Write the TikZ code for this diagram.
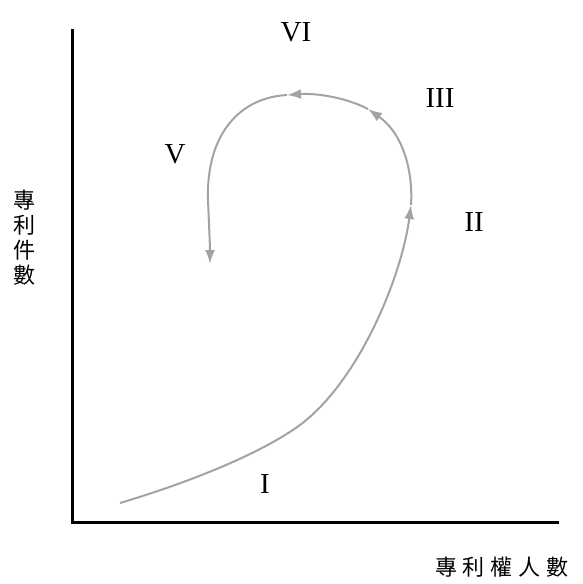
\documentclass[tikz,border=0pt]{standalone}
\usepackage{fontspec}
\setmainfont{Liberation Serif}
\newfontfamily\cjk{Noto Sans CJK TC}
\usepackage{xcolor}
\definecolor{CurveGray}{HTML}{A3A3A3}
\usetikzlibrary{arrows.meta}

\begin{document}
\begin{tikzpicture}[x=1pt, y=-1pt, axis/.style={line width=3pt, line cap=rect}, flow/.style={-{Latex[length=14pt,width=10pt]}, line width=2pt, CurveGray}, stage/.style={font=\fontsize{29}{29}\selectfont, inner sep=0pt}, axlabel/.style={font=\cjk\fontsize{22}{25}\selectfont, align=center, inner sep=0pt}]
    \useasboundingbox (0,0) rectangle (582,584);

    % axes
    \coordinate (ytop) at (72,30);
    \coordinate (origin) at (72,522);
    \coordinate (xend) at (557,522);
    \draw[axis] (ytop) -- (origin) -- (xend);

    \node[axlabel] (ylabel) at (24,238) {專\\利\\件\\數};
    \node[axlabel] (xlabel) at (502,567) {專\hspace{6pt}利\hspace{6pt}權\hspace{6pt}人\hspace{6pt}數};

    % points along the curve
    \coordinate (start) at (120,503);
    \coordinate (bend) at (300,425);
    \coordinate (tipII) at (411,205);
    \coordinate (tipIII) at (368,109);
    \coordinate (tipVI) at (287,95);
    \coordinate (leftmost) at (208,200);
    \coordinate (tipV) at (210,264);

    \draw[flow] (start) .. controls (210,476) and (270,447) .. (bend) .. controls (360,380) and (402,275) .. (tipII);
    \draw[flow] (tipII) .. controls (413,175) and (405,135) .. (tipIII);
    \draw[flow] (tipIII) .. controls (345,97) and (315,93) .. (tipVI);
    \draw[flow] (tipVI) .. controls (235,98) and (206,140) .. (leftmost) .. controls (209,225) and (210,245) .. (tipV);

    % stages
    \node[stage] (sI) at (265,484) {I};
    \node[stage] (sII) at (474,222) {II};
    \node[stage] (sIII) at (440,98) {III};
    \node[stage] (sV) at (175,154) {V};
    \node[stage] (sVI) at (296,32) {VI};
\end{tikzpicture}
\end{document}
